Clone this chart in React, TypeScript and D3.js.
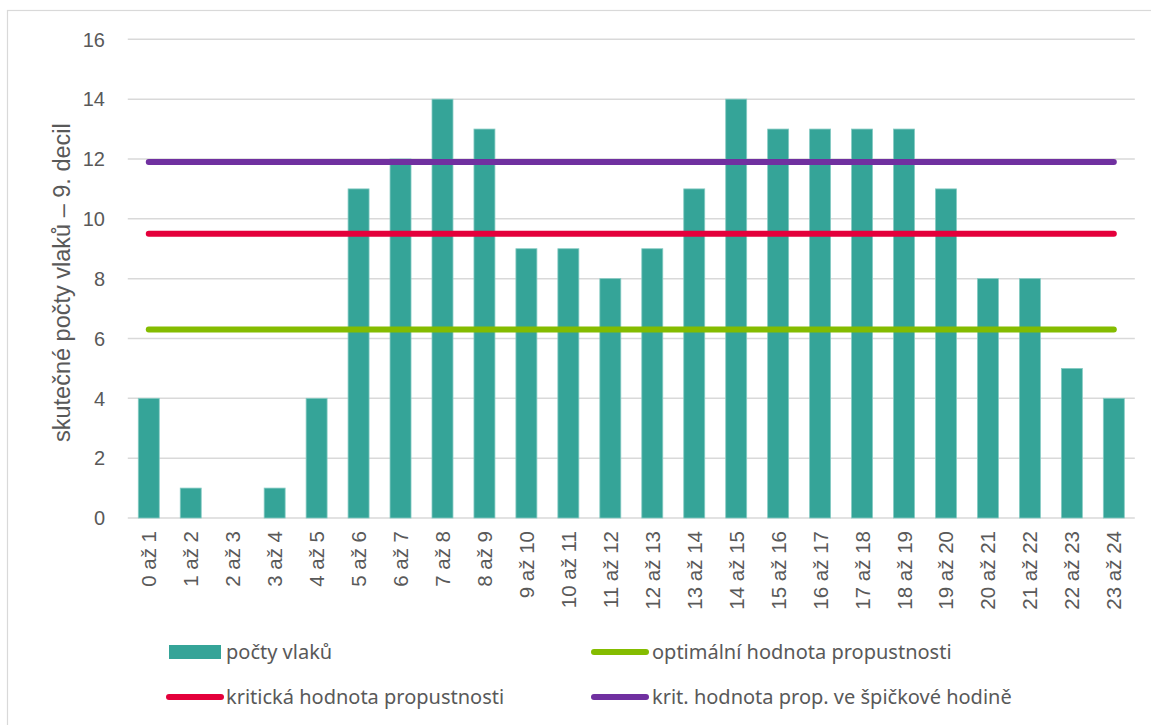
import React, { useEffect, useRef } from "react";
import * as d3 from "d3";

const categories = [
  "0 až 1", "1 až 2", "2 až 3", "3 až 4", "4 až 5", "5 až 6", "6 až 7", "7 až 8",
  "8 až 9", "9 až 10", "10 až 11", "11 až 12", "12 až 13", "13 až 14", "14 až 15",
  "15 až 16", "16 až 17", "17 až 18", "18 až 19", "19 až 20", "20 až 21", "21 až 22",
  "22 až 23", "23 až 24",
];
const trainCounts = [4, 1, 0, 1, 4, 11, 12, 14, 13, 9, 9, 8, 9, 11, 14, 13, 13, 13, 13, 11, 8, 8, 5, 4];
const optimalValue = 6.3;
const criticalValue = 9.5;
const peakCriticalValue = 11.9;
const yTicks = [0, 2, 4, 6, 8, 10, 12, 14, 16];

const seriesNames = {
  bars: "počty vlaků",
  optimal: "optimální hodnota propustnosti",
  critical: "kritická hodnota propustnosti",
  peak: "krit. hodnota prop. ve špičkové hodině",
};
const yTitle = "skutečné počty vlaků – 9. decil";

const W = 1151;
const H = 725;
const COLORS = {
  bar: "#35a498",
  barStroke: "#86cbc3",
  optimal: "#84bc00",
  critical: "#e4003b",
  peak: "#7030a0",
  grid: "#d9d9d9",
  text: "#595959",
};

export default function App() {
  const ref = useRef<SVGSVGElement | null>(null);

  useEffect(() => {
    const svg = d3.select(ref.current);
    svg.selectAll("*").remove();

    const left = 127.8, right = 1134.8, top = 39.3, bottom = 518;
    const x = d3.scaleBand<string>().domain(categories).range([left, right]).paddingInner(0.5).paddingOuter(0.25);
    const y = d3.scaleLinear().domain([0, 16]).range([bottom, top]);

    // chart border
    svg.append("rect").attr("x", 7.5).attr("y", 10.5).attr("width", W + 20).attr("height", H + 20)
      .attr("fill", "white").attr("stroke", "#d9d9d9").attr("stroke-width", 1.2);

    // gridlines
    svg.append("g").selectAll("line").data(yTicks).join("line")
      .attr("x1", left).attr("x2", right)
      .attr("y1", (d) => y(d)).attr("y2", (d) => y(d))
      .attr("stroke", COLORS.grid).attr("stroke-width", 1.5);

    // y tick labels
    svg.append("g").selectAll("text").data(yTicks).join("text")
      .attr("x", 105).attr("y", (d) => y(d)).attr("dy", "0.36em")
      .attr("text-anchor", "end")
      .attr("font-family", "Liberation Sans, Arial, sans-serif").attr("font-size", 20)
      .attr("fill", COLORS.text).text((d) => String(d));

    // y title
    svg.append("text")
      .attr("transform", `translate(70,${(top + bottom) / 2 + 4}) rotate(-90)`)
      .attr("text-anchor", "middle")
      .attr("font-family", "Liberation Sans, Arial, sans-serif").attr("font-size", 23.5)
      .attr("fill", COLORS.text).text(yTitle);

    // bars
    svg.append("g").selectAll("rect").data(trainCounts).join("rect")
      .attr("x", (_, i) => x(categories[i])!)
      .attr("width", x.bandwidth())
      .attr("y", (d) => y(d))
      .attr("height", (d) => bottom - y(d))
      .attr("fill", COLORS.bar)
      .attr("stroke", (d) => (d > 0 ? COLORS.barStroke : "none"))
      .attr("stroke-width", 0.8);

    // horizontal reference lines
    const lineData = [
      { v: optimalValue, c: COLORS.optimal },
      { v: criticalValue, c: COLORS.critical },
      { v: peakCriticalValue, c: COLORS.peak },
    ];
    const lineGen = d3.line<[number, number]>();
    const xc = (c: string) => x(c)! + x.bandwidth() / 2;
    svg.append("g").selectAll("path").data(lineData).join("path")
      .attr("d", (d) => lineGen(categories.map((c) => [xc(c), y(d.v)] as [number, number])))
      .attr("fill", "none").attr("stroke", (d) => d.c)
      .attr("stroke-width", 6).attr("stroke-linecap", "round");

    // x labels
    svg.append("g").selectAll("text").data(categories).join("text")
      .attr("transform", (c) => `translate(${xc(c) + 7.5},${531}) rotate(-90)`)
      .attr("text-anchor", "end")
      .attr("font-family", "Liberation Sans, Arial, sans-serif").attr("font-size", 20.5)
      .attr("fill", COLORS.text).text((c) => c);

    // legend
    const lg = svg.append("g").attr("font-family", "Noto Sans, sans-serif").attr("font-size", 20).attr("fill", COLORS.text);
    lg.append("rect").attr("x", 169).attr("y", 645).attr("width", 52).attr("height", 14).attr("fill", COLORS.bar);
    lg.append("text").attr("x", 226).attr("y", 652).attr("dy", "0.33em").text(seriesNames.bars);
    const legLines = [
      { x: 169, yy: 697, c: COLORS.critical, t: seriesNames.critical, tx: 226 },
      { x: 594, yy: 652, c: COLORS.optimal, t: seriesNames.optimal, tx: 652 },
      { x: 594, yy: 697, c: COLORS.peak, t: seriesNames.peak, tx: 652 },
    ];
    legLines.forEach((l) => {
      lg.append("line").attr("x1", l.x).attr("x2", l.x + 52).attr("y1", l.yy).attr("y2", l.yy)
        .attr("stroke", l.c).attr("stroke-width", 6).attr("stroke-linecap", "round");
      lg.append("text").attr("x", l.tx).attr("y", l.yy).attr("dy", "0.33em").text(l.t);
    });
  }, []);

  return (
    <svg ref={ref} width={W} height={H} style={{ position: "absolute", left: 0, top: 0, display: "block", background: "white" }} />
  );
}
